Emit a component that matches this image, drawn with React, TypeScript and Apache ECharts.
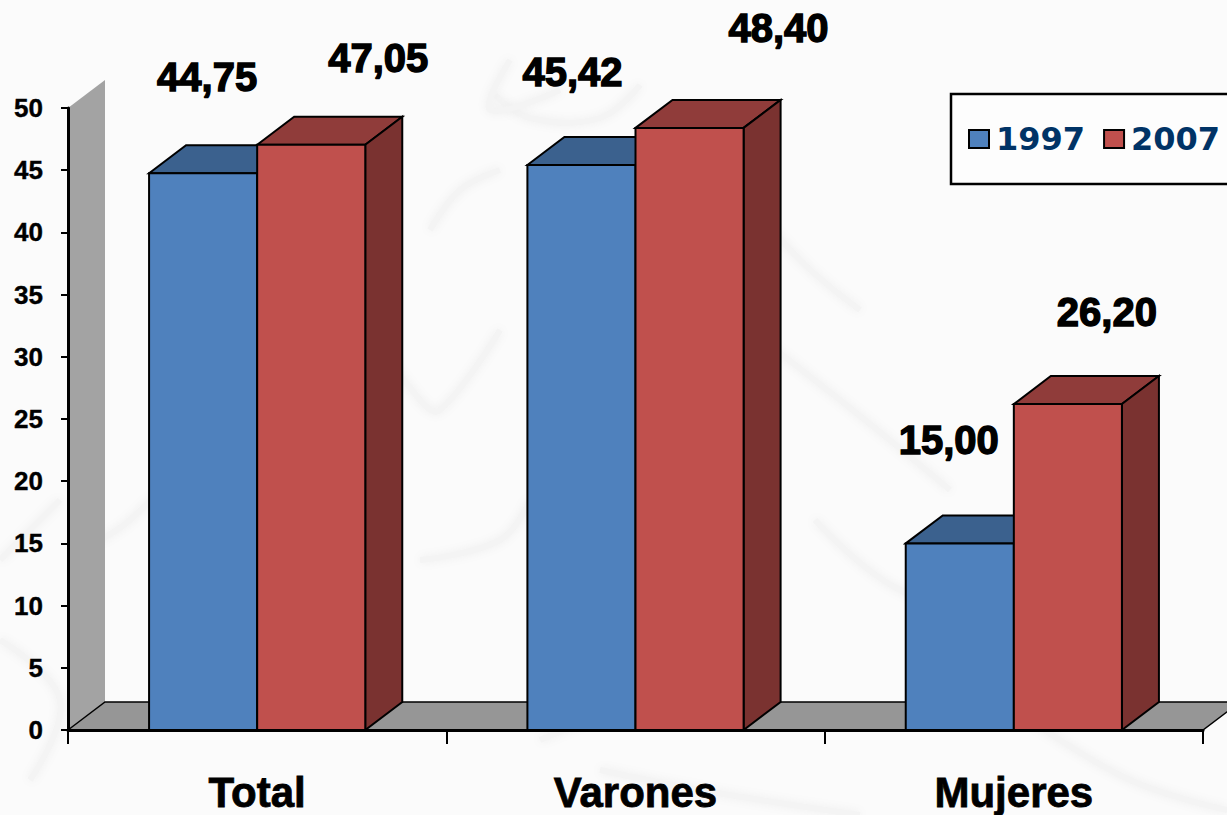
import React, { useEffect, useRef } from "react";
import * as echarts from "echarts";

const categories = ["Total", "Varones", "Mujeres"];
const years = ["1997", "2007"];
const values1997 = [44.75, 45.42, 15.0];
const values2007 = [47.05, 48.4, 26.2];
const yTicks = { min: 0, max: 50, interval: 5 };

// Hand-placed label offsets (dx from front-face centre, dy up from top edge)
const labelNudge1997 = [[4, 76], [-9, 73], [-11, 83]];
const labelNudge2007 = [[67, 67], [89, 80], [39, 72]];

const DEPTH_X = 37;
const DEPTH_Y = 28;
const BAR_RATIO = 108 / 378;

const palette = {
  blue: { front: "#4f81bd", top: "#3b618e", side: "#2f4d72" },
  red: { front: "#c0504d", top: "#903c3a", side: "#7a3230" },
};

// Faint watermark strokes in the page background
const watermark: [number, number][][] = [
  [[495, 95], [530, 118], [600, 118], [640, 85]],
  [[510, 60], [490, 110], [560, 90]],
  [[340, 290], [420, 400], [440, 410], [500, 330]],
  [[500, 170], [460, 190], [430, 230]],
  [[620, 230], [840, 400], [950, 490]],
  [[815, 520], [900, 590], [1060, 640]],
  [[1030, 720], [1130, 780], [1227, 810]],
  [[0, 640], [60, 700], [30, 780]],
  [[540, 740], [640, 700], [700, 680]],
  [[600, 770], [700, 790], [860, 815]],
  [[0, 560], [40, 520], [60, 500]],
  [[200, 450], [130, 520], [100, 540]],
  [[420, 560], [500, 540], [530, 500]],
  [[750, 200], [800, 260], [860, 310]],
];

function barSeries(name: string, values: number[], side: -1 | 0, color: typeof palette.blue, nudges: number[][]) {
  return {
    type: "custom",
    name,
    coordinateSystem: "cartesian2d",
    clip: false,
    z: 3,
    itemStyle: { color: color.front, borderColor: "#000", borderWidth: 2 },
    encode: { x: 0, y: 1 },
    data: values.map((v, i) => [i, v]),
    renderItem: (_p: any, api: any) => {
      const idx = api.value(0);
      const val = api.value(1);
      const [cx, top] = api.coord([idx, val]);
      const [, base] = api.coord([idx, 0]);
      const w = api.size([1, 0])[0] * BAR_RATIO;
      const x0 = cx + side * w;
      const x1 = x0 + w;
      const line = { stroke: "#000", lineWidth: 2, lineJoin: "miter" };
      const nudge = nudges[idx];
      return {
        type: "group",
        children: [
          { type: "polygon", shape: { points: [[x0, top], [x0 + DEPTH_X, top - DEPTH_Y], [x1 + DEPTH_X, top - DEPTH_Y], [x1, top]] }, style: { fill: color.top, ...line } },
          { type: "polygon", shape: { points: [[x1, top], [x1 + DEPTH_X, top - DEPTH_Y], [x1 + DEPTH_X, base - DEPTH_Y], [x1, base]] }, style: { fill: color.side, ...line } },
          { type: "rect", shape: { x: x0, y: top, width: w, height: base - top }, style: { fill: color.front, ...line } },
          {
            type: "text",
            style: {
              text: val.toFixed(2).replace(".", ","),
              x: x0 + w / 2 + nudge[0],
              y: top - nudge[1],
              textAlign: "center",
              textVerticalAlign: "bottom",
              verticalAlign: "bottom",
              font: 'bold 40px "Liberation Sans", Arial, sans-serif',
              fill: "#000",
              stroke: "#000",
              lineWidth: 1.4,
            },
          },
        ],
      };
    },
  };
}

const backdropSeries = {
  type: "custom",
  name: "backdrop",
  coordinateSystem: "cartesian2d",
  clip: false,
  silent: true,
  z: 1,
  data: [[0, 0]],
  encode: { x: 0, y: 1 },
  renderItem: (p: any) => {
    const { x, y, width, height } = p.coordSys;
    const b = y + height;
    const r = x + width;
    return {
      type: "group",
      children: [
        { type: "polygon", shape: { points: [[x, y], [x + DEPTH_X, y - DEPTH_Y], [x + DEPTH_X, b - DEPTH_Y], [x, b]] }, style: { fill: "#a3a3a3" } },
        { type: "polygon", shape: { points: [[x, b], [x + DEPTH_X, b - DEPTH_Y], [r + DEPTH_X, b - DEPTH_Y], [r, b]] }, style: { fill: "#969696", stroke: "#000", lineWidth: 1.5 } },
      ],
    };
  },
};

export default function App() {
  const ref = useRef<HTMLDivElement>(null);
  useEffect(() => {
    const chart = echarts.init(ref.current!, null, { renderer: "svg" });
    chart.setOption({
      animation: false,
      backgroundColor: "#fbfbfb",
      graphic: {
        elements: watermark.map((pts) => ({
          type: "polyline",
          z: -10,
          silent: true,
          shape: { points: pts, smooth: 0.4 },
          style: { stroke: "#f4f4f4", lineWidth: 6, fill: "none", shadowBlur: 10, shadowColor: "#eeeeee" },
        })),
      },
      grid: { left: 68, right: 24, top: 108, bottom: 85, containLabel: false },
      legend: {
        data: years,
        left: 951,
        top: 94,
        width: 320,
        padding: [29, 9, 29, 17],
        itemWidth: 20,
        itemHeight: 18,
        itemGap: 18,
        icon: "rect",
        backgroundColor: "#fdfdfd",
        borderColor: "#000",
        borderWidth: 2.5,
        selectedMode: false,
        textStyle: { color: "#003366", fontFamily: '"DejaVu Sans"', fontWeight: "bold", fontSize: 32, padding: [0, 0, 0, 2] },
      },
      xAxis: {
        type: "category",
        data: categories,
        z: 5,
        axisLine: { lineStyle: { color: "#000", width: 3 } },
        axisTick: { show: true, length: 14, lineStyle: { color: "#000", width: 2 } },
        axisLabel: { color: "#000", fontFamily: '"Liberation Sans", Arial', fontWeight: "bold", fontSize: 42, margin: 41, textBorderColor: "#000", textBorderWidth: 0.8 },
      },
      yAxis: {
        type: "value",
        ...yTicks,
        z: 5,
        splitLine: { show: false },
        axisLine: { show: true, lineStyle: { color: "#000", width: 3 } },
        axisTick: { show: true, length: 7, lineStyle: { color: "#000", width: 2 } },
        axisLabel: { color: "#000", fontFamily: '"Liberation Sans", Arial', fontWeight: "bold", fontSize: 26, margin: 25, textBorderColor: "#000", textBorderWidth: 0.4 },
      },
      series: [
        backdropSeries,
        barSeries(years[0], values1997, -1, palette.blue, labelNudge1997),
        barSeries(years[1], values2007, 0, palette.red, labelNudge2007),
      ],
    });
    return () => chart.dispose();
  }, []);
  return <div ref={ref} style={{ position: "absolute", left: 0, top: 0, width: 1227, height: 815 }} />;
}
